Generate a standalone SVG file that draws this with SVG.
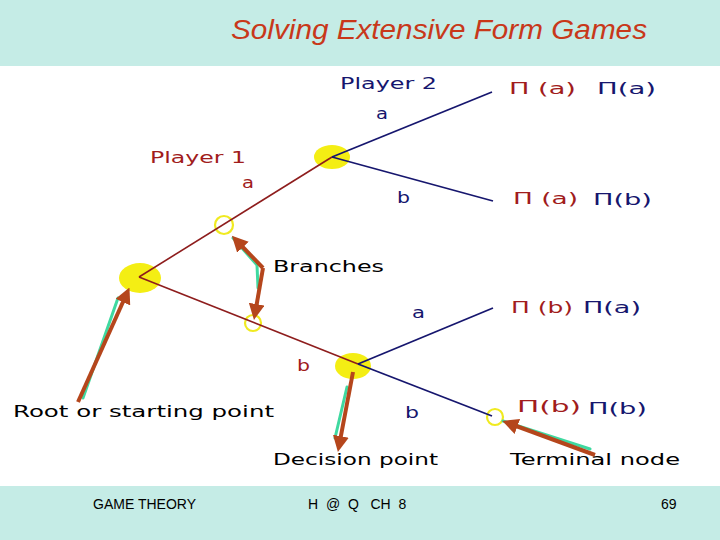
<svg xmlns="http://www.w3.org/2000/svg" width="720" height="540" viewBox="0 0 720 540">
<style>
.lab{font-family:"DejaVu Sans","Liberation Sans",sans-serif;font-size:15px}
.red{fill:#a11c1c}
.navy{fill:#16166e}
.blk{fill:#000}
.foot{font-family:"Liberation Sans",Arial,sans-serif;font-size:14px;fill:#000}
.br1{stroke:#8e1d1d;stroke-width:1.6;fill:none}
.br2{stroke:#16166e;stroke-width:1.8;fill:none}
.node{fill:#f4ee14}
.ring{fill:none;stroke:#f0ea20;stroke-width:2.2}
.arr{stroke:#b5461c;stroke-width:4;fill:none;marker-end:url(#ah)}
.sh{stroke:#3fd9a0;stroke-width:3;fill:none;stroke-linecap:round}
</style>
<defs>
<marker id="ah" markerWidth="4" markerHeight="4" refX="2.5" refY="2" orient="auto" markerUnits="strokeWidth">
<path d="M0,0 L4,2 L0,4 z" fill="#b5461c"/>
</marker>
</defs>
<rect x="0" y="0" width="720" height="540" fill="#fff"/>
<rect x="0" y="0" width="720" height="66" fill="#c5ece6"/>
<rect x="0" y="486" width="720" height="54" fill="#c5ece6"/>
<text x="439" y="39" text-anchor="middle" font-family="Liberation Sans,Arial,sans-serif" font-size="27" font-style="italic" fill="#c8381a" textLength="416" lengthAdjust="spacingAndGlyphs">Solving Extensive Form Games</text>

<g id="node-root"><ellipse cx="140" cy="278" rx="21" ry="15" class="node"/></g>
<g id="node-p2"><ellipse cx="332" cy="157" rx="18" ry="12" class="node"/></g>
<g id="node-decision"><ellipse cx="353" cy="366" rx="18" ry="13" class="node"/></g>
<g id="ring-upper"><circle cx="224" cy="225" r="9" class="ring"/></g>
<g id="ring-lower"><circle cx="253" cy="323" r="8" class="ring"/></g>
<g id="node-terminal"><circle cx="495" cy="417" r="8" class="ring"/></g>

<g id="connectors">
<line x1="139" y1="277" x2="332" y2="157" class="br1"/>
<line x1="139" y1="277" x2="358" y2="364" class="br1"/>
<line x1="332" y1="157" x2="492" y2="92" class="br2"/>
<line x1="332" y1="157" x2="493" y2="201" class="br2"/>
<line x1="358" y1="364" x2="493" y2="308" class="br2"/>
<line x1="358" y1="364" x2="492" y2="416" class="br2"/>
<polyline points="83,398 118,298" class="sh"/>
<polyline points="233,238 257,265 258,288" class="sh"/>
<polyline points="347,387 335,438" class="sh"/>
<polyline points="503,421 590,449" class="sh"/>
<line x1="78" y1="402" x2="127" y2="293" class="arr"/>
<polyline points="263,268 236,240" class="arr"/>
<polyline points="263,268 255,314" class="arr"/>
<line x1="353" y1="372" x2="339" y2="446" class="arr"/>
<line x1="595" y1="455" x2="508" y2="423" class="arr"/>
</g>

<g id="labels">
<text x="340" y="89" class="lab navy" textLength="97" lengthAdjust="spacingAndGlyphs">Player 2</text>
<text x="376" y="119" class="lab navy" textLength="12" lengthAdjust="spacingAndGlyphs">a</text>
<text x="150" y="163" class="lab red" textLength="96" lengthAdjust="spacingAndGlyphs">Player 1</text>
<text x="242" y="188" class="lab red" textLength="12" lengthAdjust="spacingAndGlyphs">a</text>
<text x="397" y="203" class="lab navy" textLength="13" lengthAdjust="spacingAndGlyphs">b</text>
<text x="509" y="94" class="lab red" textLength="67" lengthAdjust="spacingAndGlyphs">Π (a)</text>
<text x="597" y="94" class="lab navy" textLength="59" lengthAdjust="spacingAndGlyphs">Π(a)</text>
<text x="513" y="204" class="lab red" textLength="65" lengthAdjust="spacingAndGlyphs">Π (a)</text>
<text x="593" y="205" class="lab navy" textLength="59" lengthAdjust="spacingAndGlyphs">Π(b)</text>
<text x="273" y="272" class="lab blk" textLength="111" lengthAdjust="spacingAndGlyphs">Branches</text>
<text x="412" y="318" class="lab navy" textLength="13" lengthAdjust="spacingAndGlyphs">a</text>
<text x="511" y="313" class="lab red" textLength="62" lengthAdjust="spacingAndGlyphs">Π (b)</text>
<text x="583" y="313" class="lab navy" textLength="58" lengthAdjust="spacingAndGlyphs">Π(a)</text>
<text x="297" y="371" class="lab red" textLength="13" lengthAdjust="spacingAndGlyphs">b</text>
<text x="13" y="417" class="lab blk" textLength="261" lengthAdjust="spacingAndGlyphs">Root or starting point</text>
<text x="405" y="418" class="lab navy" textLength="14" lengthAdjust="spacingAndGlyphs">b</text>
<text x="517" y="412" class="lab red" textLength="64" lengthAdjust="spacingAndGlyphs">Π(b)</text>
<text x="588" y="414" class="lab navy" textLength="59" lengthAdjust="spacingAndGlyphs">Π(b)</text>
<text x="273" y="465" class="lab blk" textLength="165" lengthAdjust="spacingAndGlyphs">Decision point</text>
<text x="510" y="465" class="lab blk" textLength="170" lengthAdjust="spacingAndGlyphs">Terminal node</text>
</g>

<g id="footer">
<text x="93" y="509" class="foot" textLength="103" lengthAdjust="spacingAndGlyphs">GAME THEORY</text>
<text x="308" y="509" class="foot" xml:space="preserve">H  @  Q   CH  8</text>
<text x="661" y="509" class="foot">69</text>
</g>
</svg>
